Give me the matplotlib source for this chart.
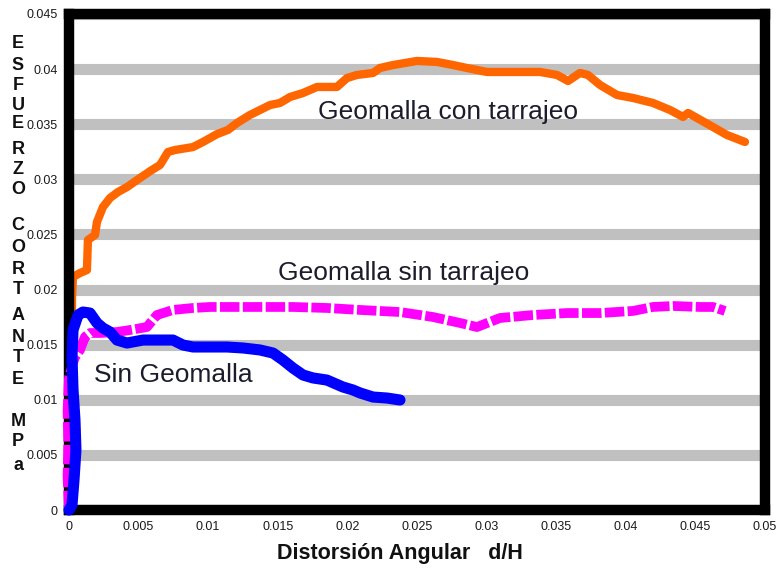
import matplotlib
matplotlib.use("Agg")
import matplotlib.pyplot as plt

# Geomalla con tarrajeo (naranja)
x_con = [0, 0.0001, 0.0002, 0.000216, 0.000287, 0.00079, 0.00129, 0.00136, 0.00187, 0.00201,
         0.00244, 0.00295, 0.00352, 0.00417, 0.0051, 0.00596, 0.00654, 0.00711, 0.00761,
         0.00891, 0.00963, 0.01063, 0.01142, 0.01207, 0.013, 0.01372, 0.01444, 0.01516,
         0.01588, 0.01681, 0.01782, 0.01925, 0.01997, 0.02069, 0.02184, 0.02234, 0.02328,
         0.0250, 0.02644, 0.02759, 0.02859, 0.03003, 0.0319, 0.03384, 0.03506, 0.03585,
         0.03671, 0.03728, 0.03815, 0.03937, 0.04052, 0.04195, 0.04318, 0.04411, 0.04447,
         0.04511, 0.04626, 0.04727, 0.04856]
y_con = [0, 0.008, 0.016, 0.01923, 0.02114, 0.0215, 0.02177, 0.0245, 0.02495, 0.02613,
         0.02749, 0.02831, 0.02885, 0.0293, 0.03012, 0.03085, 0.0313, 0.03248, 0.03266,
         0.03293, 0.03339, 0.0341, 0.03448, 0.03511, 0.03584, 0.03629, 0.03674, 0.03693,
         0.03747, 0.03783, 0.03838, 0.03838, 0.03919, 0.03947, 0.03965, 0.0401, 0.04037,
         0.04074, 0.04065, 0.04037, 0.0401, 0.03974, 0.03974, 0.03974, 0.03947, 0.03892,
         0.03965, 0.03947, 0.03856, 0.03765, 0.03738, 0.03693, 0.03629, 0.03566, 0.03602,
         0.03557, 0.03475, 0.03402, 0.03339]

# Geomalla sin tarrajeo (magenta)
x_sin = [0, -0.0001, -0.00005, -0.0001, 0.0, 0.0004, 0.00079, 0.00115, 0.00151, 0.00223,
         0.00345, 0.00438, 0.0056, 0.00632, 0.00747, 0.00891, 0.01013, 0.01372, 0.01609,
         0.01853, 0.02091, 0.02378, 0.02615, 0.02809, 0.02931, 0.03096, 0.03333, 0.03578,
         0.03815, 0.04052, 0.04195, 0.04339, 0.04533, 0.04626, 0.04713]
y_sin = [0, 0.003, 0.006, 0.009, 0.012, 0.0138, 0.01452, 0.0157, 0.01606, 0.01606,
         0.01615, 0.01633, 0.0166, 0.01769, 0.01815, 0.01833, 0.01842, 0.01842, 0.01842,
         0.01833, 0.01815, 0.01796, 0.01751, 0.01697, 0.0166, 0.01742, 0.01769, 0.01787,
         0.01787, 0.01806, 0.01842, 0.01851, 0.01842, 0.01842, 0.01806]

# Sin geomalla (azul)
x_sg = [0, 0.000216, 0.00036, 0.0005, 0.00043, 0.00029, 0.000216, 0.00029, 0.00065, 0.001,
        0.00151, 0.00201, 0.00244, 0.00295, 0.00345, 0.00417, 0.00532, 0.00654, 0.00747,
        0.00819, 0.00891, 0.01013, 0.01135, 0.0125, 0.01372, 0.01466, 0.01537, 0.01609,
        0.01681, 0.01753, 0.01853, 0.01968, 0.0204, 0.02091, 0.02184, 0.02284, 0.02378]
y_sg = [0, 0.00045, 0.00272, 0.00544, 0.00817, 0.01089, 0.01388, 0.01633, 0.01769, 0.01796,
        0.01787, 0.01697, 0.01651, 0.01615, 0.01542, 0.01515, 0.01542, 0.01542, 0.01542,
        0.01497, 0.01479, 0.01479, 0.01479, 0.0147, 0.01452, 0.01424, 0.01361, 0.01288,
        0.01225, 0.01198, 0.01179, 0.01116, 0.01089, 0.01062, 0.01025, 0.01016, 0.00998]

xticks = [0, 0.005, 0.01, 0.015, 0.02, 0.025, 0.03, 0.035, 0.04, 0.045, 0.05]
xtick_labels = ["0", "0.005", "0.01", "0.015", "0.02", "0.025", "0.03", "0.035", "0.04", "0.045", "0.05"]
yticks = [0, 0.005, 0.01, 0.015, 0.02, 0.025, 0.03, 0.035, 0.04, 0.045]
ytick_labels = ["0", "0.005", "0.01", "0.015", "0.02", "0.025", "0.03", "0.035", "0.04", "0.045"]

fuente = ["Liberation Sans", "DejaVu Sans"]
txt_color = "#1c1c2c"

fig = plt.figure(figsize=(7.83, 5.71), dpi=100)
ax = fig.add_axes([0.0881, 0.1068, 0.8889, 0.8687])

ax.plot(x_con, y_con, color="#ff6600", lw=6, solid_capstyle="round", solid_joinstyle="round", zorder=2)
ax.plot(x_sin, y_sin, color="#ff00ff", lw=7, dashes=(2.0, 0.35), dash_capstyle="butt",
        dash_joinstyle="round", zorder=3, clip_on=False)
ax.plot(x_sg, y_sg, color="#0000ff", lw=8, solid_capstyle="round", solid_joinstyle="round",
        zorder=4, clip_on=False)

ax.set_xlim(0, 0.05)
ax.set_ylim(0, 0.045)
ax.set_xticks(xticks)
ax.set_xticklabels(xtick_labels, family=fuente, fontsize=9, color="#1a1a1a")
ax.set_yticks(yticks)
ax.set_yticklabels(ytick_labels, family=fuente, fontsize=9, color="#1a1a1a")
ax.tick_params(axis="x", length=0, pad=8)
ax.tick_params(axis="y", length=0, pad=8)

ax.set_axisbelow(True)
ax.grid(axis="y", color="#c0c0c0", lw=8)
for s in ax.spines.values():
    s.set_linewidth(7.5)
    s.set_color("black")
    s.set_zorder(2.5)

ax.text(0.02723, 0.03610, "Geomalla con tarrajeo", ha="center", va="center", fontsize=19,
        family=fuente, color=txt_color, zorder=5)
ax.text(0.02407, 0.02150, "Geomalla sin tarrajeo", ha="center", va="center", fontsize=19,
        family=fuente, color=txt_color, zorder=5)
ax.text(0.00747, 0.01225, "Sin Geomalla", ha="center", va="center", fontsize=19,
        family=fuente, color=txt_color, zorder=5)

fig.text(400 / 783, 1 - 553 / 571, "Distorsión Angular   d/H", ha="center", va="center",
         family=fuente, fontsize=15.5, fontweight="bold", color="#111111")

# etiqueta vertical letra por letra
letras = list("ESFUERZOCORTANTEMPa")
pos_y = [43, 66, 85, 105, 124, 149, 170, 190, 225, 247, 269, 290, 315, 338, 358, 380, 422, 442, 465]
for l, py in zip(letras, pos_y):
    fig.text(18 / 783, 1 - py / 571, l, ha="center", va="center", fontsize=13,
             fontweight="bold", family=fuente, color="#111111")

plt.savefig("out.png", dpi=100)
